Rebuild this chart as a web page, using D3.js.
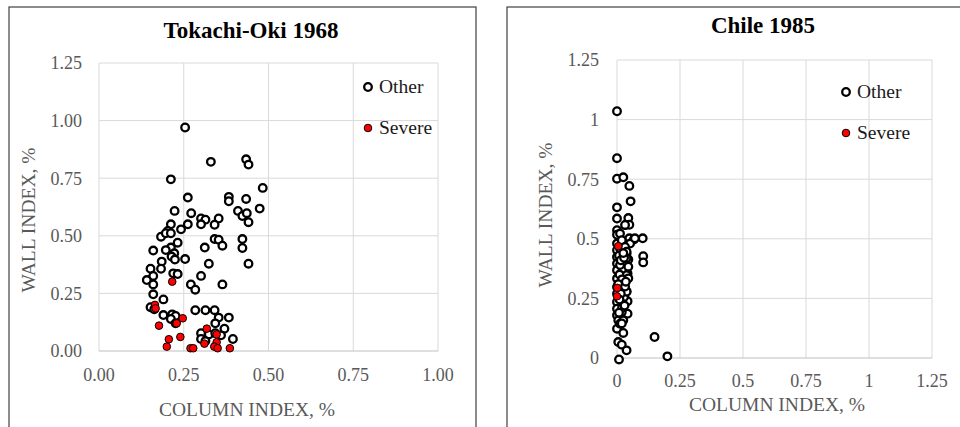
<!DOCTYPE html>
<html>
<head>
<meta charset="utf-8">
<script src="https://cdn.jsdelivr.net/npm/d3@7"></script>
<style>
  body { margin: 0; background: #fff; }
  svg { display: block; font-family: "Liberation Serif", "Times New Roman", serif; }
</style>
</head>
<body>
<svg width="960" height="427"></svg>
<script>
// Tokachi-Oki 1968: [column index, wall index]
const tokachiOther = [
  [0.254, 0.970], [0.330, 0.821], [0.434, 0.832], [0.441, 0.809], [0.212, 0.745],
  [0.483, 0.708], [0.262, 0.666], [0.383, 0.669], [0.383, 0.650], [0.434, 0.660],
  [0.223, 0.608], [0.272, 0.598], [0.410, 0.608], [0.423, 0.586], [0.436, 0.598],
  [0.474, 0.618], [0.441, 0.559], [0.301, 0.575], [0.314, 0.570], [0.301, 0.550],
  [0.353, 0.575], [0.341, 0.548], [0.262, 0.550], [0.242, 0.528], [0.212, 0.550],
  [0.203, 0.521], [0.183, 0.496], [0.197, 0.511], [0.212, 0.511], [0.341, 0.486],
  [0.353, 0.483], [0.423, 0.486], [0.423, 0.447], [0.364, 0.457], [0.312, 0.449],
  [0.232, 0.470], [0.212, 0.449], [0.197, 0.438], [0.160, 0.436], [0.222, 0.424],
  [0.214, 0.410], [0.254, 0.399], [0.224, 0.397], [0.185, 0.388], [0.324, 0.379],
  [0.441, 0.379], [0.183, 0.357], [0.152, 0.357], [0.160, 0.326], [0.219, 0.337],
  [0.232, 0.334], [0.301, 0.326], [0.141, 0.308], [0.160, 0.289], [0.271, 0.289],
  [0.284, 0.266], [0.364, 0.289], [0.160, 0.246], [0.190, 0.224], [0.152, 0.190],
  [0.163, 0.181], [0.284, 0.177], [0.314, 0.177], [0.341, 0.177], [0.383, 0.145],
  [0.353, 0.145], [0.190, 0.156], [0.216, 0.159], [0.226, 0.152], [0.212, 0.139],
  [0.226, 0.120], [0.343, 0.120], [0.370, 0.097], [0.301, 0.077], [0.324, 0.072],
  [0.343, 0.077], [0.360, 0.068], [0.301, 0.052], [0.395, 0.052], [0.314, 0.043]
];
const tokachiSevere = [
  [0.216, 0.301], [0.165, 0.200], [0.167, 0.185], [0.177, 0.110], [0.247, 0.142],
  [0.229, 0.120], [0.318, 0.097], [0.347, 0.072], [0.347, 0.038], [0.240, 0.061],
  [0.206, 0.051], [0.200, 0.019], [0.270, 0.012], [0.278, 0.012], [0.311, 0.032],
  [0.340, 0.019], [0.350, 0.012], [0.386, 0.012]
];

// Chile 1985
const chileOther = [
  [0.000, 1.035], [0.000, 0.838], [0.000, 0.752], [0.025, 0.758], [0.049, 0.722],
  [0.054, 0.657], [0.000, 0.632], [0.000, 0.585], [0.045, 0.587], [0.034, 0.558],
  [0.049, 0.559], [0.000, 0.536], [0.000, 0.517], [0.102, 0.502], [0.049, 0.502],
  [0.067, 0.497], [0.052, 0.480], [0.104, 0.427], [0.104, 0.401], [0.045, 0.413],
  [0.038, 0.438], [0.015, 0.389], [0.042, 0.354], [0.042, 0.333], [0.012, 0.340],
  [0.019, 0.312], [0.038, 0.280], [0.042, 0.238], [0.019, 0.225], [0.042, 0.186],
  [0.000, 0.123], [0.025, 0.105], [0.005, 0.067], [0.019, 0.056], [0.038, 0.032],
  [0.008, -0.006], [0.149, 0.088], [0.200, 0.007], [0.000, 0.452], [0.000, 0.424],
  [0.000, 0.396], [0.000, 0.368], [0.000, 0.333], [0.000, 0.298], [0.000, 0.270],
  [0.000, 0.235], [0.000, 0.207], [0.000, 0.179], [0.005, 0.158], [0.012, 0.144],
  [0.025, 0.158], [0.000, 0.480], [0.012, 0.459], [0.025, 0.396], [0.022, 0.368],
  [0.028, 0.284], [0.028, 0.256], [0.019, 0.193], [0.012, 0.522], [0.019, 0.494],
  [0.032, 0.466], [0.032, 0.558], [0.071, 0.502], [0.038, 0.446], [0.038, 0.418],
  [0.012, 0.390], [0.045, 0.383], [0.038, 0.348], [0.045, 0.334], [0.038, 0.278],
  [0.019, 0.145], [0.008, 0.430], [0.015, 0.410], [0.010, 0.350], [0.020, 0.330],
  [0.005, 0.310], [0.015, 0.270], [0.010, 0.245], [0.020, 0.210], [0.008, 0.190],
  [0.030, 0.220], [0.032, 0.300], [0.035, 0.320], [0.028, 0.420], [0.025, 0.440]
];
const chileSevere = [[0.005, 0.469], [0.001, 0.294], [0.000, 0.259]];

const tokachiXTicks = [0, 0.25, 0.5, 0.75, 1.0];
const tokachiYTicks = [0, 0.25, 0.5, 0.75, 1.0, 1.25];
const chileXTicks = [0, 0.25, 0.5, 0.75, 1.0, 1.25];
const chileYTicks = [0, 0.25, 0.5, 0.75, 1.0, 1.25];

const svg = d3.select("svg");

function drawPanel(p) {
  const g = svg.append("g");

  // card border
  g.append("rect")
    .attr("x", p.card[0]).attr("y", p.card[1])
    .attr("width", p.card[2]).attr("height", p.card[3])
    .attr("fill", "#fff").attr("stroke", "#404040").attr("stroke-width", 1.2);

  const x = d3.scaleLinear().domain([0, p.xMax]).range([p.left, p.right]);
  const y = d3.scaleLinear().domain([0, p.yMax]).range([p.bottom, p.top]);

  // gridlines
  g.append("g").selectAll("line").data(p.xTicks).join("line")
    .attr("x1", d => x(d)).attr("x2", d => x(d))
    .attr("y1", p.top).attr("y2", p.bottom)
    .attr("stroke", "#d9d9d9").attr("stroke-width", 1);
  g.append("g").selectAll("line").data(p.yTicks).join("line")
    .attr("x1", p.left).attr("x2", p.right)
    .attr("y1", d => y(d)).attr("y2", d => y(d))
    .attr("stroke", d => d === 0 ? "#bfbfbf" : "#d9d9d9").attr("stroke-width", 1);

  // tick labels
  g.append("g").selectAll("text").data(p.xTicks).join("text")
    .attr("x", d => x(d)).attr("y", p.xTickY)
    .attr("text-anchor", "middle").attr("fill", "#595959")
    .style("font-size", "18px").text(p.fmt);
  g.append("g").selectAll("text").data(p.yTicks).join("text")
    .attr("x", p.yTickX).attr("y", d => y(d)).attr("dy", "0.35em")
    .attr("text-anchor", "end").attr("fill", "#595959")
    .style("font-size", "18px").text(p.fmt);

  // titles
  g.append("text").attr("x", p.titleX).attr("y", p.titleY)
    .attr("text-anchor", "middle").style("font-size", "23px").style("font-weight", "bold")
    .text(p.title);
  g.append("text").attr("x", p.xTitleX).attr("y", p.xTitleY)
    .attr("text-anchor", "middle").attr("fill", "#595959").style("font-size", "19.5px")
    .text("COLUMN INDEX, %");
  g.append("text")
    .attr("transform", `translate(${p.yTitleX},${p.yTitleY}) rotate(-90)`)
    .attr("text-anchor", "middle").attr("fill", "#595959").style("font-size", "19.5px")
    .text("WALL INDEX, %");

  // points
  g.append("g").selectAll("circle").data(p.other).join("circle")
    .attr("cx", d => x(d[0])).attr("cy", d => y(d[1])).attr("r", 3.8)
    .attr("fill", "#fff").attr("stroke", "#000").attr("stroke-width", 2.3);
  g.append("g").selectAll("circle").data(p.severe).join("circle")
    .attr("cx", d => x(d[0])).attr("cy", d => y(d[1])).attr("r", 3.8)
    .attr("fill", "#ff0000").attr("stroke", "#000").attr("stroke-width", 1);

  // legend
  const lg = g.append("g").attr("transform", `translate(${p.legend[0]},${p.legend[1]})`);
  lg.append("circle").attr("cx", 0).attr("cy", 0).attr("r", 3.8)
    .attr("fill", "#fff").attr("stroke", "#000").attr("stroke-width", 2.3);
  lg.append("text").attr("x", 11).attr("y", 6).style("font-size", "19.5px").attr("fill", "#1a1a1a").text("Other");
  lg.append("circle").attr("cx", 0).attr("cy", 41).attr("r", 3.8)
    .attr("fill", "#ff0000").attr("stroke", "#000").attr("stroke-width", 1);
  lg.append("text").attr("x", 11).attr("y", 47).style("font-size", "19.5px").attr("fill", "#1a1a1a").text("Severe");
}

drawPanel({
  card: [9, 7, 467, 440],
  left: 99, right: 438, top: 63, bottom: 351,
  xMax: 1.0, yMax: 1.25,
  xTicks: tokachiXTicks, yTicks: tokachiYTicks,
  fmt: d3.format(".2f"),
  xTickY: 381, yTickX: 82,
  title: "Tokachi-Oki 1968", titleX: 251, titleY: 38,
  xTitleX: 247, xTitleY: 416,
  yTitleX: 35, yTitleY: 220,
  other: tokachiOther, severe: tokachiSevere,
  legend: [368, 87]
});

drawPanel({
  card: [507, 7, 470, 440],
  left: 617, right: 932, top: 60, bottom: 358,
  xMax: 1.25, yMax: 1.25,
  xTicks: chileXTicks, yTicks: chileYTicks,
  fmt: d => String(d),
  xTickY: 387, yTickX: 599,
  title: "Chile 1985", titleX: 763, titleY: 33,
  xTitleX: 777, xTitleY: 411,
  yTitleX: 552, yTitleY: 215,
  other: chileOther, severe: chileSevere,
  legend: [846, 92]
});
</script>
</body>
</html>
